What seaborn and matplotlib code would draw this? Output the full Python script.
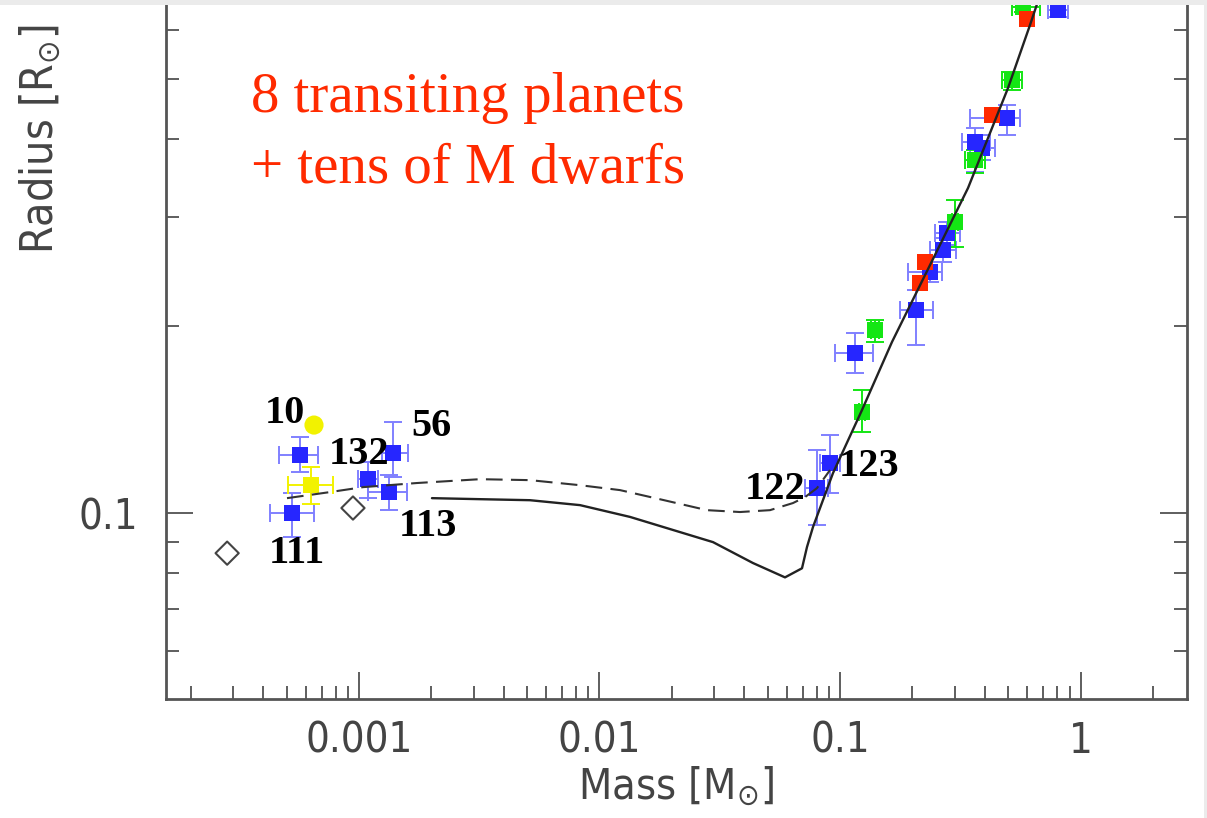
import matplotlib
matplotlib.use("Agg")
import matplotlib.pyplot as plt
from matplotlib.patches import Rectangle
from matplotlib.ticker import FixedLocator, FixedFormatter, NullFormatter
import numpy as np
import pandas as pd
import seaborn as sns

# ---------------- data ----------------
# transiting planets (blue squares, with uncertainties)
planet_label = ["132", "111", "", "56", "113"]
planet_mass = [5.68e-4, 5.26e-4, 1.09e-3, 1.385e-3, 1.33e-3]
planet_mass_lo = [4.65e-4, 4.27e-4, 9.90e-4, 1.25e-3, 1.09e-3]
planet_mass_hi = [6.75e-4, 6.50e-4, 1.20e-3, 1.60e-3, 1.58e-3]
planet_radius = [0.1240, 0.1000, 0.1134, 0.1249, 0.1081]
planet_radius_lo = [0.1164, 0.0915, 0.1057, 0.1143, 0.1011]
planet_radius_hi = [0.1326, 0.1077, 0.1208, 0.1401, 0.1151]

# yellow planets
ycirc_label = ["10"]
ycirc_mass = [6.50e-4]
ycirc_radius = [0.1386]
ysq_mass = [6.32e-4]
ysq_mass_lo = [5.07e-4]
ysq_mass_hi = [7.80e-4]
ysq_radius = [0.1109]
ysq_radius_lo = [0.1034]
ysq_radius_hi = [0.1186]

# reference planets (open diamonds)
ref_mass = [2.83e-4, 9.44e-4]
ref_radius = [0.0862, 0.1019]

# M dwarfs, blue
mdb_label = ["122", "123", "", "", "", "", "", "", "", "", ""]
mdb_mass = [0.0802, 0.0909, 0.1155, 0.2070, 0.2367, 0.2681, 0.2786, 0.3641, 0.3894, 0.4948, 0.8062]
mdb_mass_lo = [0.0715, 0.0826, 0.0953, 0.1776, 0.1917, 0.2367, 0.2483, 0.3216, 0.3472, 0.3472, 0.7323]
mdb_mass_hi = [0.0892, 0.1000, 0.1371, 0.2436, 0.2655, 0.3036, 0.3155, 0.4205, 0.4410, 0.5603, 0.8872]
mdb_radius = [0.1097, 0.1204, 0.1810, 0.2123, 0.2443, 0.2651, 0.2824, 0.3957, 0.3871, 0.4326, 0.6457]
mdb_radius_lo = [0.0956, 0.1077, 0.1680, 0.1865, 0.2355, 0.2536, 0.2701, 0.3541, 0.3702, 0.4062, 0.6291]
mdb_radius_hi = [0.1263, 0.1335, 0.1950, 0.2286, 0.2536, 0.2772, 0.2941, 0.4169, 0.4062, 0.4539, 0.6627]

# M dwarfs, green
mdg_mass = [0.1234, 0.1398, 0.3007, 0.3641, 0.5190, 0.5766]
mdg_mass_lo = [0.1200, 0.1345, 0.2922, 0.3310, 0.4717, 0.5190]
mdg_mass_hi = [0.1270, 0.1453, 0.3094, 0.4008, 0.5712, 0.6787]
mdg_radius = [0.1454, 0.1971, 0.2941, 0.3702, 0.4981, 0.6528]
mdg_radius_lo = [0.1350, 0.1886, 0.2681, 0.3528, 0.4800, 0.6409]
mdg_radius_hi = [0.1578, 0.2046, 0.3192, 0.3842, 0.5130, 0.6651]

# M dwarfs, red
mdr_mass = [0.2151, 0.2256, 0.4285, 0.5991]
mdr_radius = [0.2346, 0.2536, 0.4374, 0.6245]

# model mass-radius relations
solid_mass = [2.011e-3, 3.185e-3, 5.14e-3, 8.30e-3, 1.339e-2, 2.965e-2, 4.347e-2,
              5.906e-2, 6.950e-2, 7.291e-2, 7.723e-2, 9.352e-2, 0.1234, 0.1645,
              0.2367, 0.3406, 0.4995, 0.6166, 0.6787, 0.7466]
solid_radius = [0.1057, 0.1053, 0.1049, 0.1030, 0.0986, 0.0898, 0.0831,
                0.0788, 0.0815, 0.0882, 0.0950, 0.1160, 0.1465, 0.1886,
                0.2508, 0.3337, 0.4835, 0.6107, 0.6824, 0.7489]
dashed_mass = [5.02e-4, 7.57e-4, 1.039e-3, 1.742e-3, 3.185e-3, 5.14e-3, 8.30e-3,
               1.217e-2, 1.837e-2, 2.799e-2, 3.838e-2, 5.116e-2, 6.376e-2,
               7.152e-2, 8.02e-2, 9.088e-2]
dashed_radius = [0.1057, 0.1081, 0.1101, 0.1118, 0.1134, 0.1130, 0.1109,
                 0.1089, 0.1050, 0.1011, 0.1004, 0.1011, 0.1038,
                 0.1061, 0.1097, 0.1173]

x_ticks = [0.001, 0.01, 0.1, 1]
x_tick_labels = ["0.001", "0.01", "0.1", "1"]
y_ticks = [0.1]
y_tick_labels = ["0.1"]

# ---------------- style ----------------
sns.set_theme(style="ticks")
plt.rcParams["font.family"] = ["DejaVu Sans Condensed", "DejaVu Sans"]
plt.rcParams["font.stretch"] = "condensed"
plt.rcParams["mathtext.fontset"] = "dejavusans"

BLUE = "#2626ff"
BLUE_ERR = "#8080ff"
GREEN = "#14e614"
RED = "#ff2a00"
YELLOW = "#f2f200"
AXCOL = "#555555"
TXTCOL = "#444444"

W, H = 1207, 818
fig = plt.figure(figsize=(W / 100, H / 100), dpi=100)
fig.patch.set_facecolor("white")
ax = fig.add_axes([166 / W, 119 / H, (1187 - 166) / W, (699 + 47.8) / H])
ax.set_xscale("log")
ax.set_yscale("log")
ax.set_xlim(1.576e-4, 2.772)
ax.set_ylim(0.0502, 0.8)


def errbars(mass, lo, hi, rad, rlo, rhi, color):
    m = np.asarray(mass); r = np.asarray(rad)
    ax.errorbar(m, r,
                xerr=[m - np.asarray(lo), np.asarray(hi) - m],
                yerr=[r - np.asarray(rlo), np.asarray(rhi) - r],
                fmt="none", ecolor=color, elinewidth=1.4, capsize=6.5,
                capthick=1.4, zorder=2)


errbars(planet_mass, planet_mass_lo, planet_mass_hi,
        planet_radius, planet_radius_lo, planet_radius_hi, BLUE_ERR)
errbars(mdb_mass, mdb_mass_lo, mdb_mass_hi,
        mdb_radius, mdb_radius_lo, mdb_radius_hi, BLUE_ERR)
errbars(mdg_mass, mdg_mass_lo, mdg_mass_hi,
        mdg_radius, mdg_radius_lo, mdg_radius_hi, GREEN)
errbars(ysq_mass, ysq_mass_lo, ysq_mass_hi,
        ysq_radius, ysq_radius_lo, ysq_radius_hi, YELLOW)

squares = pd.DataFrame({
    "mass": planet_mass + mdb_mass + mdg_mass + mdr_mass + ysq_mass,
    "radius": planet_radius + mdb_radius + mdg_radius + mdr_radius + ysq_radius,
    "group": (["blue"] * (len(planet_mass) + len(mdb_mass)) + ["green"] * len(mdg_mass)
              + ["red"] * len(mdr_mass) + ["yellow"] * len(ysq_mass)),
})
sns.scatterplot(data=squares, x="mass", y="radius", hue="group",
                palette={"blue": BLUE, "green": GREEN, "red": RED, "yellow": YELLOW},
                marker="s", s=130, edgecolor="none", legend=False, ax=ax, zorder=3)
sns.scatterplot(x=ycirc_mass, y=ycirc_radius, marker="o", s=190, color=YELLOW,
                edgecolor="none", legend=False, ax=ax, zorder=3)
sns.scatterplot(x=ref_mass, y=ref_radius, marker="D", s=140, color="#444444",
                facecolor="none", edgecolor="#444444", linewidth=1.5,
                legend=False, ax=ax, zorder=3)

sns.lineplot(x=solid_mass, y=solid_radius, sort=False, estimator=None,
             color="#222222", linewidth=1.7, ax=ax, zorder=4)
sns.lineplot(x=dashed_mass, y=dashed_radius, sort=False, estimator=None,
             color="#333333", linewidth=1.5, linestyle=(0, (8, 4)), ax=ax, zorder=4)

# object numbers
label_style = dict(family="Liberation Serif", weight="bold", size=29,
                   color="black", ha="center", va="baseline", zorder=5)
named = [
    (ycirc_label[0], ycirc_mass[0], ycirc_radius[0], (-29, 2)),
    (planet_label[0], planet_mass[0], planet_radius[0], (59, -9)),
    (planet_label[3], planet_mass[3], planet_radius[3], (38, 17)),
    (planet_label[4], planet_mass[4], planet_radius[4], (39, -44)),
    (planet_label[1], planet_mass[1], planet_radius[1], (5, -50)),
    (mdb_label[0], mdb_mass[0], mdb_radius[0], (-42, -11)),
    (mdb_label[1], mdb_mass[1], mdb_radius[1], (39, -13)),
]
for name, mx, ry, off in named:
    ax.annotate(name, (mx, ry), xytext=off, textcoords="offset pixels", **label_style)

# axes furniture
ax.xaxis.set_major_locator(FixedLocator(x_ticks))
ax.xaxis.set_major_formatter(FixedFormatter(x_tick_labels))
ax.xaxis.set_minor_locator(FixedLocator(
    [k * 10.0 ** e for e in range(-4, 1) for k in range(2, 10)]))
ax.xaxis.set_minor_formatter(NullFormatter())
ax.yaxis.set_major_locator(FixedLocator(y_ticks))
ax.yaxis.set_major_formatter(FixedFormatter(y_tick_labels))
ax.yaxis.set_minor_locator(FixedLocator(
    [k * 10.0 ** e for e in range(-2, 0) for k in range(2, 10)]))
ax.yaxis.set_minor_formatter(NullFormatter())

ax.tick_params(which="both", direction="in", top=True, right=True,
               color="#333333", width=1.1, labelsize=30, labelcolor=TXTCOL)
ax.tick_params(axis="x", pad=15)
ax.tick_params(axis="y", pad=20)
ax.tick_params(which="major", length=19.4)
ax.tick_params(which="minor", length=9.4)
for sp in ax.spines.values():
    sp.set_color(AXCOL)
    sp.set_linewidth(2.0)
ax.set_xlabel("")
ax.set_ylabel("")

fig.text(676 / W, 1 - 799 / H, r"Mass [M$_{\odot}$]", fontsize=31, color=TXTCOL,
         ha="center", va="baseline")
fig.text(53 / W, 1 - 139 / H, r"Radius [R$_{\odot}$]", fontsize=32, color=TXTCOL,
         ha="center", va="baseline", rotation=90, rotation_mode="anchor")

note_style = dict(family="Liberation Serif", size=41, color=RED, ha="left", va="baseline")
fig.text(251 / W, 1 - 112 / H, "8 transiting planets", **note_style)
fig.text(251 / W, 1 - 183 / H, "+ tens of M dwarfs", **note_style)

# light page border along the top and right edges
fig.add_artist(Rectangle((0, 1 - 5 / H), 1, 5 / H, transform=fig.transFigure,
                         facecolor="#ebebeb", edgecolor="none", zorder=20))
fig.add_artist(Rectangle((1 - 3 / W, 0), 3 / W, 1, transform=fig.transFigure,
                         facecolor="#ebebeb", edgecolor="none", zorder=20))

fig.savefig("out.png", dpi=100)
